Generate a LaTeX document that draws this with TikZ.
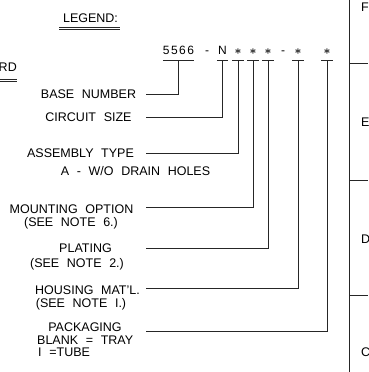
\documentclass[tikz,border=0pt]{standalone}
\usepackage{amsmath}
\usepackage{fontspec}
\setmainfont{Liberation Sans}[WordSpace=2.2]
\definecolor{inkgray}{HTML}{262626}
\usetikzlibrary{positioning}
\begin{document}
\begin{tikzpicture}[
    x=1pt, y=-1pt,
    lbl/.style={inner sep=0pt, font=\fontsize{12.5}{14}\selectfont, text height=9pt, text depth=0pt},
    code/.style={anchor=south, inner xsep=0pt, inner ysep=5pt, minimum width=11pt, font=\fontsize{12}{14}\selectfont\addfontfeature{LetterSpace=12}, text height=8.4pt, text depth=0pt},
    wire/.style={line width=1pt, draw=inkgray},
]
    \useasboundingbox (0,0) rectangle (368,372);

    % Title and cut-off heading
    \node[lbl] (legend) at (90.5,18) {LEGEND:};
    \draw[wire, line width=0.9pt] (59,27) -- (120,27) (59,29.5) -- (120,29.5);
    \node[lbl, anchor=east] (rd) at (17,67) {RD};
    \draw[wire, line width=0.9pt] (0,79) -- (17,79) (0,81.5) -- (17,81.5);

    % Part number
    \node[code] (base) at (178.5,60) {5566};
    \node[code, minimum width=0pt] (dash1) at (207,60) {-};
    \node[code] (size) at (222.5,60) {N};
    \node[code] (asm) at (238,60) {$\boldsymbol{\ast}$};
    \node[code] (mount) at (253,60) {$\boldsymbol{\ast}$};
    \node[code] (plate) at (268,60) {$\boldsymbol{\ast}$};
    \node[code, minimum width=0pt] (dash2) at (283,60) {-};
    \node[code] (house) at (298,60) {$\boldsymbol{\ast}$};
    \node[code] (pack) at (327,60) {$\boldsymbol{\ast}$};
    \foreach \n in {base, size, asm, mount, plate, house, pack}
        \draw[wire] (\n.south west) -- (\n.south east);

    % Labels
    \node[lbl] (base-lbl) at (88.5,94) {BASE NUMBER};
    \node[lbl] (size-lbl) at (88.5,117) {CIRCUIT SIZE};
    \node[lbl] (asm-lbl) at (80.5,153) {ASSEMBLY TYPE};
    \node[lbl] (asm-opt) at (135.5,171) {A - W/O DRAIN HOLES};
    \node[lbl] (mount-lbl) at (71.5,209) {MOUNTING OPTION};
    \node[lbl] (mount-note) at (71,222) {(SEE NOTE 6.)};
    \node[lbl] (plate-lbl) at (85.5,248) {PLATING};
    \node[lbl] (plate-note) at (77,263) {(SEE NOTE 2.)};
    \node[lbl] (house-lbl) at (87.5,290) {HOUSING MAT'L.};
    \node[lbl] (house-note) at (81,303) {(SEE NOTE I.)};
    \node[lbl] (pack-lbl) at (85,327) {PACKAGING};
    \node[lbl, anchor=west] (pack-tray) at (37,340) {BLANK = TRAY};
    \node[lbl, anchor=west] (pack-tube) at (38,352) {I =TUBE};

    % Leader ends
    \coordinate (base-end) at (146,94);
    \coordinate (size-end) at (146,117);
    \coordinate (asm-end) at (146,153);
    \coordinate (mount-end) at (146,207);
    \coordinate (plate-end) at (146,248);
    \coordinate (house-end) at (146,288);
    \coordinate (pack-end) at (146,331);
    \foreach \n in {base, size, asm, mount, plate, house, pack}
        \draw[wire] (\n.south) |- (\n-end);

    % Zone column
    \draw[wire] (349,0) -- (349,372);
    \draw[wire] (349,63) -- (368,63) (349,180) -- (368,180) (349,295) -- (368,295);
    \node[lbl, anchor=west] (zone-f) at (361,7) {F};
    \node[lbl, anchor=west] (zone-e) at (361,122) {E};
    \node[lbl, anchor=west] (zone-d) at (361,239) {D};
    \node[lbl, anchor=west] (zone-c) at (361,352) {C};
\end{tikzpicture}
\end{document}
